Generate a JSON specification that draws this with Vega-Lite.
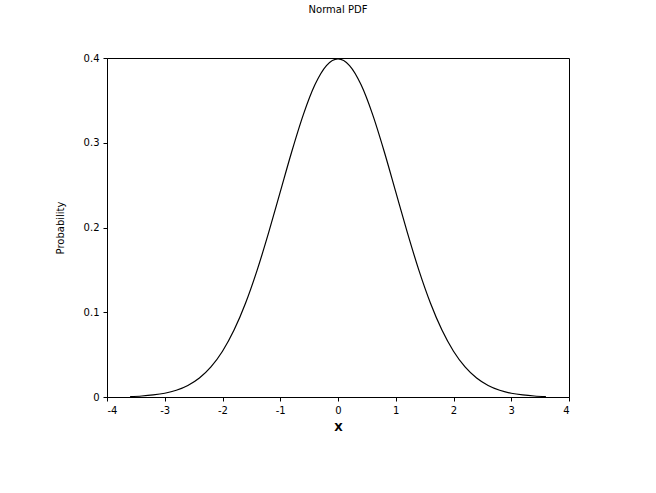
{
  "$schema": "https://vega.github.io/schema/vega-lite/v6.json",
  "autosize": {"type": "none"},
  "width": 462,
  "height": 339,
  "padding": {"left": 107, "top": 58, "right": 87, "bottom": 96},
  "background": "white",
  "title": {"text": "Normal PDF", "fontSize": 10, "font": "DejaVu Sans", "fontWeight": "normal", "offset": 38, "color": "black"},
  "data": {"values": [
    {"x": -3.6, "p": 0.0006}, {"x": -3.4, "p": 0.0012}, {"x": -3.2, "p": 0.0024},
    {"x": -3.0, "p": 0.0044}, {"x": -2.8, "p": 0.0079}, {"x": -2.6, "p": 0.0136},
    {"x": -2.4, "p": 0.0224}, {"x": -2.2, "p": 0.0355}, {"x": -2.0, "p": 0.0540},
    {"x": -1.8, "p": 0.0790}, {"x": -1.6, "p": 0.1109}, {"x": -1.4, "p": 0.1497},
    {"x": -1.2, "p": 0.1942}, {"x": -1.0, "p": 0.2420}, {"x": -0.8, "p": 0.2897},
    {"x": -0.6, "p": 0.3332}, {"x": -0.4, "p": 0.3683}, {"x": -0.2, "p": 0.3910},
    {"x": 0.0, "p": 0.3989},
    {"x": 0.2, "p": 0.3910}, {"x": 0.4, "p": 0.3683}, {"x": 0.6, "p": 0.3332},
    {"x": 0.8, "p": 0.2897}, {"x": 1.0, "p": 0.2420}, {"x": 1.2, "p": 0.1942},
    {"x": 1.4, "p": 0.1497}, {"x": 1.6, "p": 0.1109}, {"x": 1.8, "p": 0.0790},
    {"x": 2.0, "p": 0.0540}, {"x": 2.2, "p": 0.0355}, {"x": 2.4, "p": 0.0224},
    {"x": 2.6, "p": 0.0136}, {"x": 2.8, "p": 0.0079}, {"x": 3.0, "p": 0.0044},
    {"x": 3.2, "p": 0.0024}, {"x": 3.4, "p": 0.0012}, {"x": 3.6, "p": 0.0006}
  ]},
  "mark": {"type": "line", "interpolate": "monotone", "color": "black", "strokeWidth": 1.2},
  "encoding": {
    "x": {"field": "x", "type": "quantitative", "scale": {"domain": [-4, 4], "nice": false},
      "axis": {"values": [-4, -3, -2, -1, 0, 1, 2, 3, 4], "labelExpr": "'' + datum.value", "title": "X", "titleFontWeight": "bold", "titleFontSize": 11, "titlePadding": 6}},
    "y": {"field": "p", "type": "quantitative", "scale": {"domain": [0, 0.4], "nice": false},
      "axis": {"values": [0, 0.1, 0.2, 0.3, 0.4], "labelExpr": "'' + datum.value", "title": "Probability", "titleFontWeight": "normal", "titleFontSize": 10, "titlePadding": 18}}
  },
  "config": {
    "view": {"stroke": "black", "strokeWidth": 1},
    "axis": {"grid": false, "domainColor": "black", "tickColor": "black", "tickSize": 4, "labelColor": "black", "titleColor": "black", "labelFontSize": 10, "labelFont": "DejaVu Sans", "titleFont": "DejaVu Sans", "labelPadding": 4}
  }
}
